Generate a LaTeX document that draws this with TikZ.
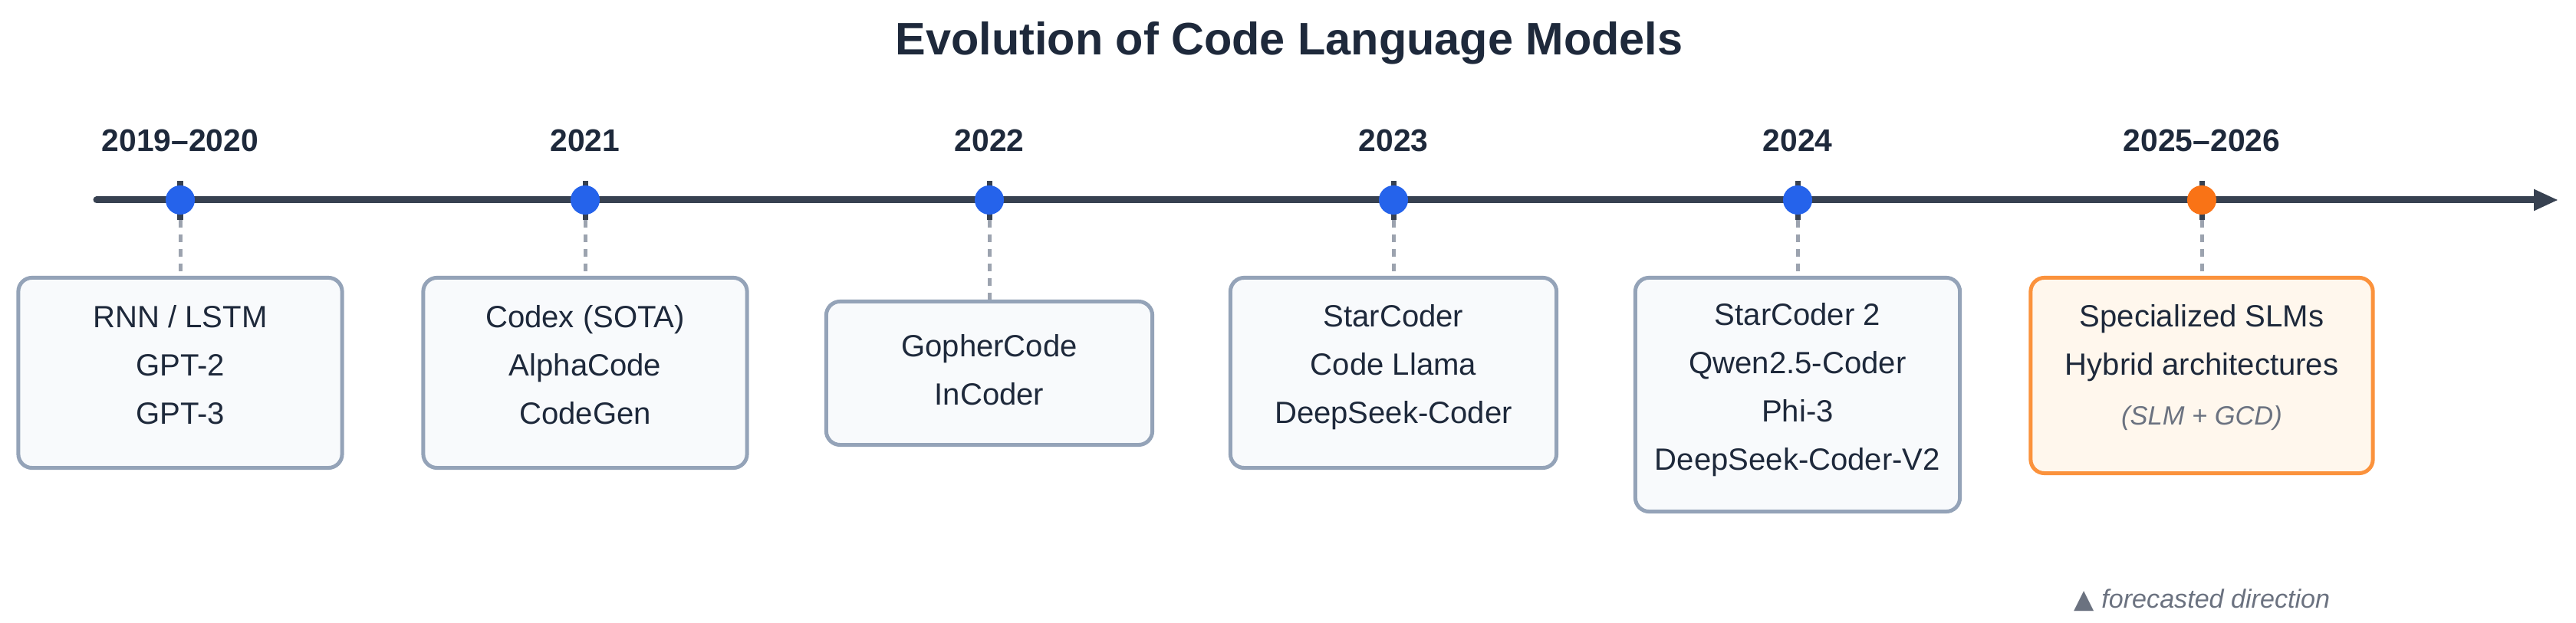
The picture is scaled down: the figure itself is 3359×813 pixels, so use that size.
\documentclass[tikz,border=0pt]{standalone}
\usepackage{fontspec}
\setmainfont{Liberation Sans}
\newfontfamily\symfont{DejaVu Sans}
\usetikzlibrary{arrows.meta}

\definecolor{axisgray}{HTML}{374151}
\definecolor{ptblue}{HTML}{2563EB}
\definecolor{ptorange}{HTML}{F97316}
\definecolor{boxline}{HTML}{94A3B8}
\definecolor{boxfill}{HTML}{F8FAFC}
\definecolor{fcline}{HTML}{FB923C}
\definecolor{fcfill}{HTML}{FFF7ED}
\definecolor{inkdark}{HTML}{1E293B}
\definecolor{notegray}{HTML}{6B7280}
\definecolor{dashgray}{HTML}{9CA3AF}

\tikzset{
  axisline/.style={draw=axisgray, line width=0.09cm, line cap=round, -{Triangle[length=0.32cm, width=0.26cm]}},
  tickmark/.style={draw=axisgray, line width=0.07cm},
  yeardot/.style={circle, fill=ptblue, minimum size=0.38cm, inner sep=0pt},
  fcdot/.style={yeardot, fill=ptorange},
  leader/.style={draw=dashgray, line width=0.05cm, dash pattern=on 0.1cm off 0.09cm, dash phase=0.13cm},
  periodbox/.style={draw=boxline, fill=boxfill, line width=0.05cm, rounded corners=0.18cm, inner sep=0pt},
  fcbox/.style={periodbox, draw=fcline, fill=fcfill},
  titletext/.style={anchor=base, inner sep=0pt, text=inkdark, font=\fontsize{16.9}{20}\selectfont\bfseries},
  yeartext/.style={anchor=base, inner sep=0pt, text=inkdark, font=\fontsize{11.6}{14}\selectfont\bfseries},
  modeltext/.style={align=center, inner sep=0pt, text=inkdark, font=\fontsize{11.4}{17.9}\selectfont},
  notetext/.style={anchor=base west, inner sep=0pt, text=notegray, font=\fontsize{9.7}{12}\selectfont}
}

\begin{document}
\begin{tikzpicture}[x=0.01cm, y=-0.01cm]
\useasboundingbox (0,0) rectangle (3359,813);

\node[titletext] (title) at (1681,72) {Evolution of Code Language Models};

\coordinate (axisstart) at (126,261);
\coordinate (axisend) at (3336,261);
\draw[axisline] (axisstart) -- (axisend);

\draw[tickmark] (235,236) -- (235,287);
\draw[tickmark] (763,236) -- (763,287);
\draw[tickmark] (1290,236) -- (1290,287);
\draw[tickmark] (1817,236) -- (1817,287);
\draw[tickmark] (2344,236) -- (2344,287);
\draw[tickmark] (2871,236) -- (2871,287);

\node[yeardot] (p1) at (235,261) {};
\node[yeardot] (p2) at (763,261) {};
\node[yeardot] (p3) at (1290,261) {};
\node[yeardot] (p4) at (1817,261) {};
\node[yeardot] (p5) at (2344,261) {};
\node[fcdot] (p6) at (2871,261) {};

\node[yeartext] (yr1) at (235,198) {2019–2020};
\node[yeartext] (yr2) at (763,198) {2021};
\node[yeartext] (yr3) at (1290,198) {2022};
\node[yeartext] (yr4) at (1817,198) {2023};
\node[yeartext] (yr5) at (2344,198) {2024};
\node[yeartext] (yr6) at (2871,198) {2025–2026};

\node[periodbox, minimum width=4.22cm, minimum height=2.48cm] (box1) at (235,486.5) {};
\node[periodbox, minimum width=4.22cm, minimum height=2.48cm] (box2) at (763,486.5) {};
\node[periodbox, minimum width=4.25cm, minimum height=1.87cm] (box3) at (1290,487) {};
\node[periodbox, minimum width=4.25cm, minimum height=2.48cm] (box4) at (1817,486.5) {};
\node[periodbox, minimum width=4.23cm, minimum height=3.05cm] (box5) at (2344,515) {};
\node[fcbox, minimum width=4.46cm, minimum height=2.55cm] (box6) at (2871,490) {};

\draw[leader] (p1) -- (box1.north);
\draw[leader] (p2) -- (box2.north);
\draw[leader] (p3) -- (box3.north);
\draw[leader] (p4) -- (box4.north);
\draw[leader] (p5) -- (box5.north);
\draw[leader] (p6) -- (box6.north);

\node[modeltext] (txt1) at (235,477.5) {\strut RNN / LSTM\\GPT-2\\GPT-3\strut};
\node[modeltext] (txt2) at (763,477.5) {\strut Codex (SOTA)\\AlphaCode\\CodeGen\strut};
\node[modeltext] (txt3) at (1290,484) {\strut GopherCode\\InCoder\strut};
\node[modeltext] (txt4) at (1817,477) {\strut StarCoder\\Code Llama\\DeepSeek-Coder\strut};
\node[modeltext] (txt5) at (2344,506) {\strut StarCoder 2\\Qwen2.5-Coder\\Phi-3\\DeepSeek-Coder-V2\strut};
\node[modeltext] (txt6) at (2871,478) {\strut Specialized SLMs\\Hybrid architectures\\[0.02cm]{\fontsize{9.8}{12}\selectfont\itshape\color{notegray}(SLM + GCD)}\strut};

\node[notetext] (note) at (2704,794) {{\symfont ▲} \itshape forecasted direction};
\end{tikzpicture}
\end{document}
